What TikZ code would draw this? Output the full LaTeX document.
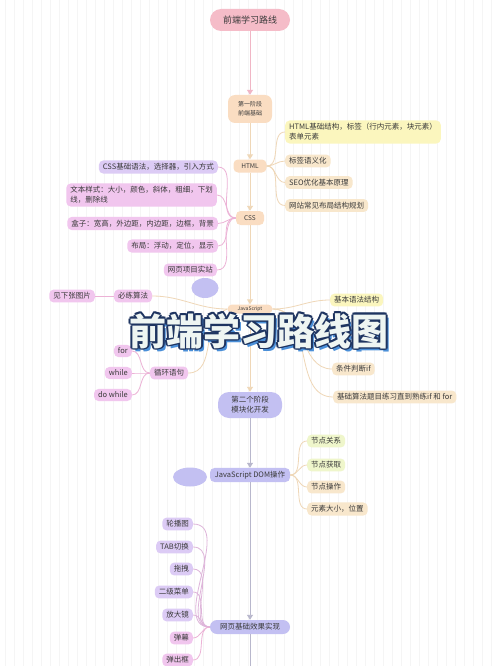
\documentclass[tikz,border=0pt]{standalone}
\usepackage{fontspec}
\setmainfont{Noto Sans CJK SC}
\usetikzlibrary{arrows.meta, shapes.geometric}

\definecolor{pinkbox}{HTML}{F5BCC8}
\definecolor{peach}{HTML}{FADDC2}
\definecolor{yellowbox}{HTML}{FBF6BE}
\definecolor{beige}{HTML}{F8E7CC}
\definecolor{lavender}{HTML}{DCCBF5}
\definecolor{orchid}{HTML}{F1C6EE}
\definecolor{periwinkle}{HTML}{C3C0F2}
\definecolor{lime}{HTML}{EFF6CB}
\definecolor{ink}{HTML}{3A3A3A}
\definecolor{navy}{HTML}{1E3460}
\definecolor{skyblue}{HTML}{4A8FD8}
\definecolor{cream}{HTML}{EEF5F2}

\begin{document}
\begin{tikzpicture}[
    x=1pt, y=-1pt,
    box/.style = {fill=#1, rounded corners=4.5pt, inner xsep=4pt, inner ysep=3pt, text=ink, font=\fontsize{7.5}{10}\selectfont},
    spine/.style = {draw=#1, line width=0.9pt, -{Triangle[width=6pt,length=5pt]}},
    branch/.style = {draw=#1, line width=0.8pt},
    blob/.style = {fill=periwinkle, ellipse, inner sep=0pt},
    bigtitle/.style = {font=\fontsize{37}{40}\selectfont\bfseries, inner sep=0pt}
]

\useasboundingbox (0,0) rectangle (500,666);
\clip (0,0) rectangle (500,666);
\fill[white] (0,0) rectangle (500,666);
\foreach \x in {5,14,...,500}
    \draw[black!4, line width=0.4pt] (\x,0) -- (\x,666);

% stage 1
\node[box=pinkbox, minimum width=80pt, minimum height=22pt, rounded corners=11pt, font=\fontsize{9}{11}\selectfont] (start) at (250,20) {前端学习路线};
\node[box=peach, align=center, minimum width=44pt, minimum height=28pt, rounded corners=7pt, font=\fontsize{6}{9}\selectfont] (stage1) at (250,109) {第一阶段\\前端基础};
\node[box=peach, minimum width=33pt, minimum height=13pt, font=\fontsize{6.5}{8}\selectfont] (html) at (250,166) {HTML};
\node[box=peach, minimum width=28pt, minimum height=14pt, font=\fontsize{6.5}{8}\selectfont] (css) at (250,218) {CSS};
\node[box=peach, minimum width=45pt, minimum height=9pt, inner ysep=1pt, font=\fontsize{5}{6}\selectfont] (js) at (250,309) {JavaScript};

\node[box=yellowbox, anchor=west, align=left] (h1) at (285,132) {HTML基础结构，标签（行内元素，块元素）\\表单元素};
\node[box=beige, anchor=west] (h2) at (285,161) {标签语义化};
\node[box=beige, anchor=west] (h3) at (285,182.5) {SEO优化基本原理};
\node[box=beige, anchor=west] (h4) at (285,205.5) {网站常见布局结构规划};

\node[box=lavender, anchor=east] (c1) at (218,167) {CSS基础语法，选择器，引入方式};
\node[box=orchid, anchor=east, align=left] (c2) at (217,195) {文本样式：大小，颜色，斜体，粗细，下划\\线，删除线};
\node[box=orchid, anchor=east] (c3) at (218,223.5) {盒子：宽高，外边距，内边距，边框，背景};
\node[box=orchid, anchor=east] (c4) at (218,246) {布局：浮动，定位，显示};
\node[box=orchid, anchor=east] (c5) at (217,270) {网页项目实站};

\node[blob, minimum width=27pt, minimum height=20pt] (blob1) at (205,288) {};

\node[box=orchid] (algo) at (133,296) {必练算法};
\node[box=orchid] (nextpic) at (72,296) {见下张图片};
\node[box=orchid] (loop) at (169,373) {循环语句};
\node[box=orchid, anchor=east] (for) at (132,351) {for};
\node[box=orchid, anchor=east] (while) at (132,373) {while};
\node[box=orchid, anchor=east] (dowhile) at (132,395) {do while};

\node[box=yellowbox, anchor=west] (j1) at (330,300) {基本语法结构};
\node[box=beige, anchor=west] (j2) at (332,369) {条件判断if};
\node[box=beige, anchor=west] (j3) at (333,397) {基础算法题目练习直到熟练if 和 for};

% stage 2
\node[box=periwinkle, align=center, minimum width=64pt, minimum height=26pt, rounded corners=11pt] (stage2) at (250,405) {第二个阶段\\模块化开发};
\node[box=periwinkle, minimum width=80pt, minimum height=14pt] (dom) at (250,475) {JavaScript DOM操作};
\node[blob, minimum width=34pt, minimum height=19pt] (blob2) at (190,477) {};

\node[box=lime, anchor=west] (d1) at (307,441) {节点关系};
\node[box=lime, anchor=west] (d2) at (307,465) {节点获取};
\node[box=beige, anchor=west] (d3) at (307,487) {节点操作};
\node[box=beige, anchor=west] (d4) at (307,509) {元素大小，位置};

\node[box=periwinkle, minimum width=80pt, minimum height=14pt, rounded corners=7pt] (web) at (250,627) {网页基础效果实现};
\coordinate (tail) at (250,680);

\node[box=lavender, anchor=east] (w1) at (193,524) {轮播图};
\node[box=lavender, anchor=east] (w2) at (193,547) {TAB切换};
\node[box=lavender, anchor=east] (w3) at (193,569) {拖拽};
\node[box=lavender, anchor=east] (w4) at (193,592) {二级菜单};
\node[box=lavender, anchor=east] (w5) at (193,615) {放大镜};
\node[box=orchid, anchor=east] (w6) at (193,638) {弹幕};
\node[box=orchid, anchor=east] (w7) at (193,660) {弹出框};

% spine
\draw[spine=pinkbox!80!purple!70] (start) -- (stage1);
\draw[spine=beige!85!brown] (stage1) -- (html);
\draw[spine=beige!85!brown] (html) -- (css);
\draw[spine=beige!85!brown] (css) -- (js);
\draw[spine=beige!85!brown] (js) -- (stage2);
\draw[spine=black!30!periwinkle!60] (stage2) -- (dom);
\draw[spine=black!30!periwinkle!60] (dom) -- (web);
\draw[branch=black!30!periwinkle!60, line width=0.9pt] (web) -- (tail);

% branches
\foreach \n in {h1,h2,h3,h4}
    \draw[branch=beige!85!brown] (html.east) to[out=0, in=180] (\n.west);
\foreach \n in {c1,c2,c3,c4,c5}
    \draw[branch=orchid!80!purple!80] (css.west) to[out=180, in=0] (\n.east);
\draw[branch=beige!85!brown] (js.west) to[out=180, in=0] (algo.east);
\draw[branch=orchid!80!purple!80] (algo) -- (nextpic);
\draw[branch=beige!85!brown] (js.west) to[out=200, in=0] (loop.east);
\foreach \n in {for,while,dowhile}
    \draw[branch=orchid!80!purple!80] (loop.west) to[out=180, in=0] (\n.east);
\foreach \n in {j1,j2,j3}
    \draw[branch=beige!85!brown] (js.east) to[out=0, in=180] (\n.west);
\foreach \n in {d1,d2,d3,d4}
    \draw[branch=beige!85!brown] (dom.east) to[out=0, in=180] (\n.west);
\foreach \n in {w1,w2,w3,w4,w5}
    \draw[branch=lavender!80!purple!80] (web.west) to[out=180, in=0] (\n.east);
\foreach \n in {w6,w7}
    \draw[branch=orchid!80!purple!80] (web.west) to[out=180, in=0] (\n.east);

% big title on top
\node[bigtitle, text=skyblue] (bt0) at (261.5,334) {前端学习路线图};
\foreach \dx/\dy [count=\i] in {1.6/0, -1.6/0, 0/1.6, 0/-1.6, 1.2/1.2, -1.2/1.2, 1.2/-1.2, -1.2/-1.2}
    \node[bigtitle, text=navy, xshift=\dx pt, yshift=\dy pt] (bt\i) at (259,331) {前端学习路线图};
\node[bigtitle, text=cream] (bigtitle) at (259,331) {前端学习路线图};

\end{tikzpicture}
\end{document}
